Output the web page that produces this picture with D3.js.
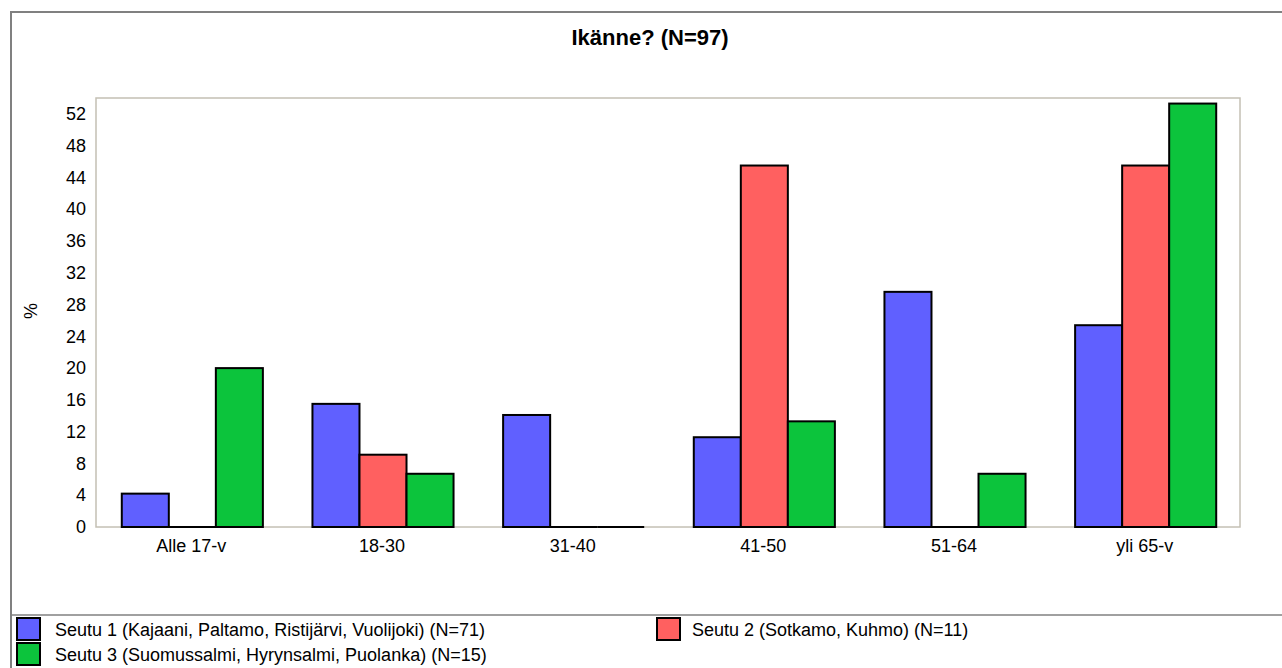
<!DOCTYPE html>
<html><head><meta charset="utf-8">
<script src="https://cdn.jsdelivr.net/npm/d3@7"></script>
<style>body{margin:0;background:#fff}svg{display:block;font-family:Arial,"Liberation Sans",sans-serif}</style>
</head><body>
<svg id="c" width="1282" height="668"></svg>
<script>
const title = "Ikänne? (N=97)";
const categories = ["Alle 17-v","18-30","31-40","41-50","51-64","yli 65-v"];
const seriesNames = ["Seutu 1 (Kajaani, Paltamo, Ristijärvi, Vuolijoki) (N=71)","Seutu 2 (Sotkamo, Kuhmo) (N=11)","Seutu 3 (Suomussalmi, Hyrynsalmi, Puolanka) (N=15)"];
const seutu1 = [4.2,15.5,14.1,11.3,29.6,25.4];
const seutu2 = [0,9.1,0,45.5,0,45.5];
const seutu3 = [20.0,6.7,0,13.3,6.7,53.3];
const yTicks = [0,4,8,12,16,20,24,28,32,36,40,44,48,52];
const colors = ["#6060ff","#ff6060","#0cc43c"];
const series = [seutu1,seutu2,seutu3];
const FONT = "Arial,'Liberation Sans',sans-serif";

const svg = d3.select("#c");
// outer frame
svg.append("rect").attr("x",11).attr("y",12).attr("width",1282).attr("height",700)
  .attr("fill","none").attr("stroke","#808080").attr("stroke-width",2);
svg.append("line").attr("x1",11).attr("x2",1282).attr("y1",615).attr("y2",615)
  .attr("stroke","#808080").attr("stroke-width",1.5);

const L=96,R=1240,T=98,B=527;
const x = d3.scaleBand().domain(categories).range([L,R]).padding(0);
const y = d3.scaleLinear().domain([0,54]).range([B,T]);
const groupFrac = 0.74;
const xs = d3.scaleBand().domain([0,1,2]).range([0,x.bandwidth()*groupFrac]);

// plot border
svg.append("rect").attr("x",L).attr("y",T).attr("width",R-L).attr("height",B-T)
  .attr("fill","none").attr("stroke","#c4c0b4").attr("stroke-width",1.5);

// title
svg.append("text").attr("x",650).attr("y",45).attr("text-anchor","middle")
  .attr("font-size",22).attr("font-weight","bold").text(title);

// y axis
const yAxis = svg.append("g").attr("transform",`translate(${L},0)`)
  .call(d3.axisLeft(y).tickValues(yTicks).tickSize(0).tickPadding(10));
yAxis.select(".domain").remove();
yAxis.selectAll("text").attr("font-size",18).attr("font-family",FONT).attr("fill","#000");

svg.append("text").attr("transform","translate(37,311) rotate(-90)").attr("text-anchor","middle")
  .attr("font-size",18).text("%");

// x axis
const xAxis = svg.append("g").attr("transform",`translate(0,${B})`)
  .call(d3.axisBottom(x).tickSize(0).tickPadding(12));
xAxis.select(".domain").remove();
xAxis.selectAll("text").attr("font-size",18).attr("font-family",FONT).attr("fill","#000");

// bars
const off = x.bandwidth()*(1-groupFrac)/2 + 1;
series.forEach((vals,si)=>{
  const g = svg.append("g");
  g.selectAll("rect").data(vals.map((v,i)=>({v,i})).filter(d=>d.v>0)).join("rect")
    .attr("x",d=>x(categories[d.i])+off+xs(si))
    .attr("y",d=>y(d.v))
    .attr("width",xs.bandwidth())
    .attr("height",d=>B-y(d.v))
    .attr("fill",colors[si]).attr("stroke","#000").attr("stroke-width",2);
  g.selectAll("line").data(vals.map((v,i)=>({v,i})).filter(d=>d.v===0)).join("line")
    .attr("x1",d=>x(categories[d.i])+off+xs(si))
    .attr("x2",d=>x(categories[d.i])+off+xs(si)+xs.bandwidth())
    .attr("y1",y(0)).attr("y2",y(0))
    .attr("stroke","#000").attr("stroke-width",2);
});

// legend
const leg = [{i:0,x:17,y:618},{i:1,x:657,y:618},{i:2,x:17,y:643}];
leg.forEach(l=>{
  svg.append("rect").attr("x",l.x).attr("y",l.y).attr("width",23).attr("height",22)
    .attr("fill",colors[l.i]).attr("stroke","#000").attr("stroke-width",2);
  svg.append("text").attr("x",l.i===1?l.x+35:l.x+38).attr("y",l.y+18).attr("font-size",18).text(seriesNames[l.i]);
});
</script>
</body></html>
